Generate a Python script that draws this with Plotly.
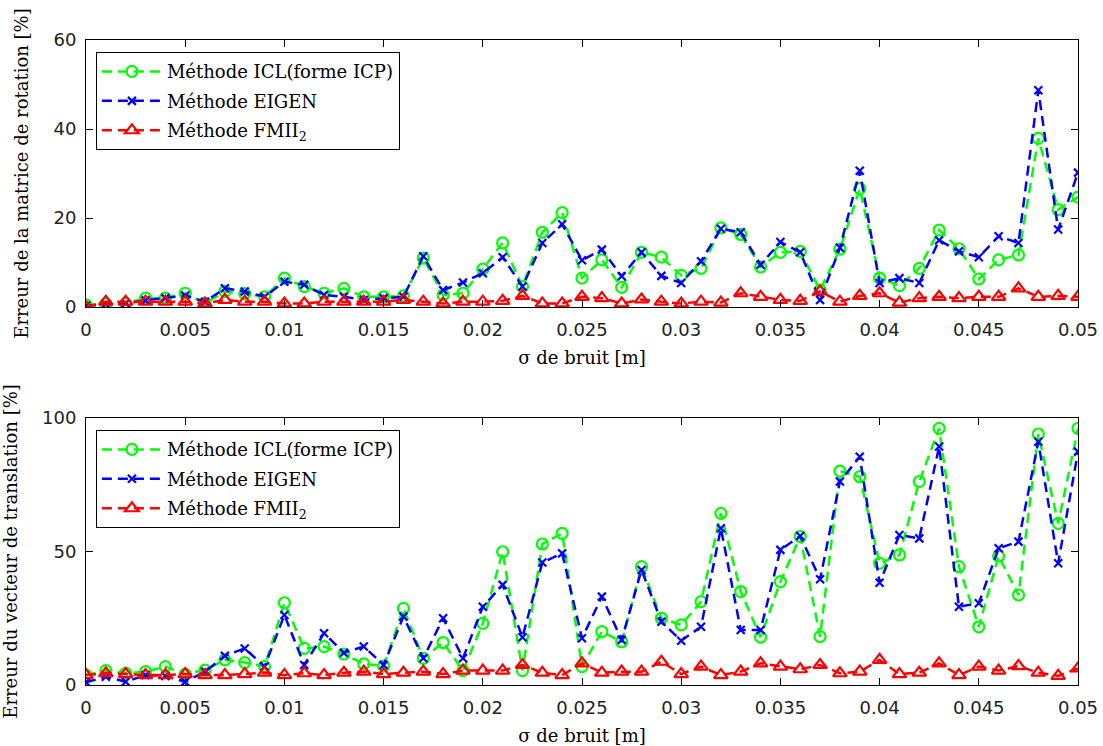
import plotly.graph_objects as go

sigma = [round(i * 0.001, 3) for i in range(51)]

rot_icl = [0.5, 0.7, 0.8, 2.0, 2.0, 3.1, 0.8, 3.5, 3.0, 2.3,
           6.5, 4.6, 3.1, 4.2, 2.3, 2.3, 2.5, 11.0, 2.7, 3.1,
           8.5, 14.4, 4.6, 16.8, 21.2, 6.5, 10.6, 4.4, 12.3, 11.2,
           7.1, 8.7, 17.8, 16.3, 9.0, 12.3, 12.5, 3.8, 13.0, 26.6,
           6.5, 4.8, 8.7, 17.3, 13.1, 6.3, 10.6, 11.7, 37.9, 21.9, 24.7]
rot_eigen = [0.3, 0.6, 0.8, 1.5, 2.0, 2.6, 1.2, 4.2, 3.5, 2.3,
             5.7, 5.0, 2.7, 2.3, 1.6, 2.0, 2.3, 11.4, 3.8, 5.5,
             7.6, 11.2, 4.6, 14.4, 18.6, 10.5, 12.9, 6.9, 12.3, 7.0,
             5.4, 10.3, 17.6, 16.8, 9.5, 14.6, 12.3, 1.6, 13.3, 30.6,
             5.4, 6.5, 5.4, 15.0, 12.5, 11.2, 15.9, 14.4, 48.7, 17.4, 30.2]
rot_fmii = [0.0, 1.2, 1.2, 1.2, 1.2, 1.2, 0.8, 1.6, 1.2, 1.2,
            0.8, 0.8, 1.2, 1.2, 1.2, 1.2, 1.6, 1.2, 0.8, 1.2,
            1.2, 1.4, 2.5, 0.8, 0.8, 2.3, 2.0, 0.8, 1.7, 1.2,
            0.8, 1.2, 1.0, 3.1, 2.3, 1.6, 1.4, 3.5, 1.2, 2.5,
            3.1, 1.0, 2.0, 2.3, 2.0, 2.3, 2.3, 4.2, 2.3, 2.5, 2.3]

tr_icl = [3.7, 5.4, 4.4, 5.0, 6.9, 4.1, 5.6, 9.4, 8.4, 6.9,
          30.8, 13.7, 14.4, 11.6, 7.9, 7.1, 28.7, 10.0, 15.9, 5.4,
          23.1, 49.9, 5.4, 52.8, 56.8, 6.9, 20.0, 16.2, 44.3, 25.0,
          22.5, 31.2, 64.3, 35.0, 17.9, 38.7, 55.6, 18.1, 80.1, 78.0,
          45.6, 48.7, 76.2, 96.1, 44.3, 21.8, 48.3, 33.7, 94.0, 60.5, 96.1]
tr_eigen = [1.0, 3.1, 1.2, 3.7, 3.4, 1.2, 5.0, 10.9, 13.7, 6.9,
            26.2, 7.5, 19.4, 12.1, 14.4, 7.5, 25.6, 10.0, 25.0, 10.0,
            29.3, 37.5, 17.9, 45.9, 49.3, 17.5, 33.1, 16.9, 43.1, 23.7,
            16.6, 21.8, 58.7, 20.6, 20.6, 50.6, 55.8, 39.6, 76.2, 85.5,
            38.3, 56.2, 54.9, 89.3, 29.3, 30.6, 51.2, 53.7, 91.1, 45.6, 87.4]
tr_fmii = [3.7, 4.4, 4.1, 3.7, 3.7, 4.1, 3.7, 3.7, 4.1, 4.6,
           3.7, 4.4, 3.7, 4.6, 5.0, 4.1, 4.6, 5.0, 4.1, 5.4,
           5.4, 5.4, 7.5, 4.6, 3.7, 8.1, 4.6, 5.0, 5.0, 8.7,
           4.1, 6.9, 3.7, 5.0, 8.1, 6.9, 5.9, 7.5, 4.4, 5.0,
           9.4, 4.1, 4.6, 8.1, 3.7, 6.9, 5.4, 7.1, 4.6, 3.4, 6.2]

x_ticks = [0, 0.005, 0.01, 0.015, 0.02, 0.025, 0.03, 0.035, 0.04, 0.045, 0.05]
x_tick_labels = ["0", "0.005", "0.01", "0.015", "0.02", "0.025", "0.03", "0.035", "0.04", "0.045", "0.05"]
names = ["Méthode ICL(forme ICP)", "Méthode EIGEN", "Méthode FMII<sub>2</sub>"]

FONT = "DejaVu Serif"
TICKFONT = "DejaVu Sans"
GREEN, BLUE, RED = "#00ff00", "#0000ff", "#ff0000"

fig = go.Figure()

def add_set(ys, xaxis, yaxis, legend, tag):
    styles = [
        (GREEN, "circle-open", 11),
        (BLUE, "x-thin-open", 8),
        (RED, "triangle-up-open", 12),
    ]
    for k, (y, name, (col, sym, sz)) in enumerate(zip(ys, names, styles)):
        fig.add_trace(go.Scatter(
            x=sigma, y=y, name=name, mode="lines+markers",
            xaxis=xaxis, yaxis=yaxis, legend=legend,
            legendgroup=f"{tag}{k}",
            line=dict(color=col, width=2.5, dash="10px,6px"),
            marker=dict(symbol=sym, size=sz, color=col,
                        line=dict(color=col, width=2.2)),
        ))

add_set([rot_icl, rot_eigen, rot_fmii], "x", "y", "legend", "r")
add_set([tr_icl, tr_eigen, tr_fmii], "x2", "y2", "legend2", "t")

axis_common = dict(
    showline=True, linecolor="black", linewidth=1, mirror="ticks",
    ticks="inside", ticklen=7, tickcolor="black", showgrid=False,
    zeroline=False, automargin=False,
    tickfont=dict(family=TICKFONT, size=18, color="#222"),
)

xtitle = dict(text="σ de bruit [m]", standoff=12, font=dict(family=FONT, size=18))

fig.update_layout(
    width=1103, height=746,
    margin=dict(l=86, r=25, t=40, b=61),
    paper_bgcolor="white", plot_bgcolor="white",
    font=dict(family=FONT, size=18, color="black"),
    showlegend=True,
    xaxis=dict(domain=[0, 1], anchor="y", range=[0, 0.05],
               tickvals=x_ticks, ticktext=x_tick_labels, ticklabelstandoff=6,
               ticklabeloverflow="allow", title=xtitle, **axis_common),
    yaxis=dict(domain=[0.586, 1], anchor="x", range=[0, 60],
               tickvals=[0, 20, 40, 60], ticklabelstandoff=5,
               title=dict(text="Erreur de la matrice de rotation [%]", standoff=20,
                          font=dict(family=FONT, size=18)),
               **axis_common),
    xaxis2=dict(domain=[0, 1], anchor="y2", range=[0, 0.05],
                tickvals=x_ticks, ticktext=x_tick_labels, ticklabelstandoff=6,
                ticklabeloverflow="allow", title=xtitle, **axis_common),
    yaxis2=dict(domain=[0, 0.414], anchor="x2", range=[0, 100],
                tickvals=[0, 50, 100], ticklabelstandoff=5,
                title=dict(text="Erreur du vecteur de translation [%]", standoff=20,
                           font=dict(family=FONT, size=18)),
                **axis_common),
    legend=dict(x=0.01, y=0.981, xanchor="left", yanchor="top",
                bordercolor="black", borderwidth=1, bgcolor="white",
                font=dict(family=FONT, size=18), itemwidth=60,
                tracegroupgap=3),
    legend2=dict(x=0.01, y=0.395, xanchor="left", yanchor="top",
                 bordercolor="black", borderwidth=1, bgcolor="white",
                 font=dict(family=FONT, size=18), itemwidth=60,
                 tracegroupgap=3),
)

fig.write_html("out.html", config={"displayModeBar": False},
               post_script="document.body.style.margin='0';")
